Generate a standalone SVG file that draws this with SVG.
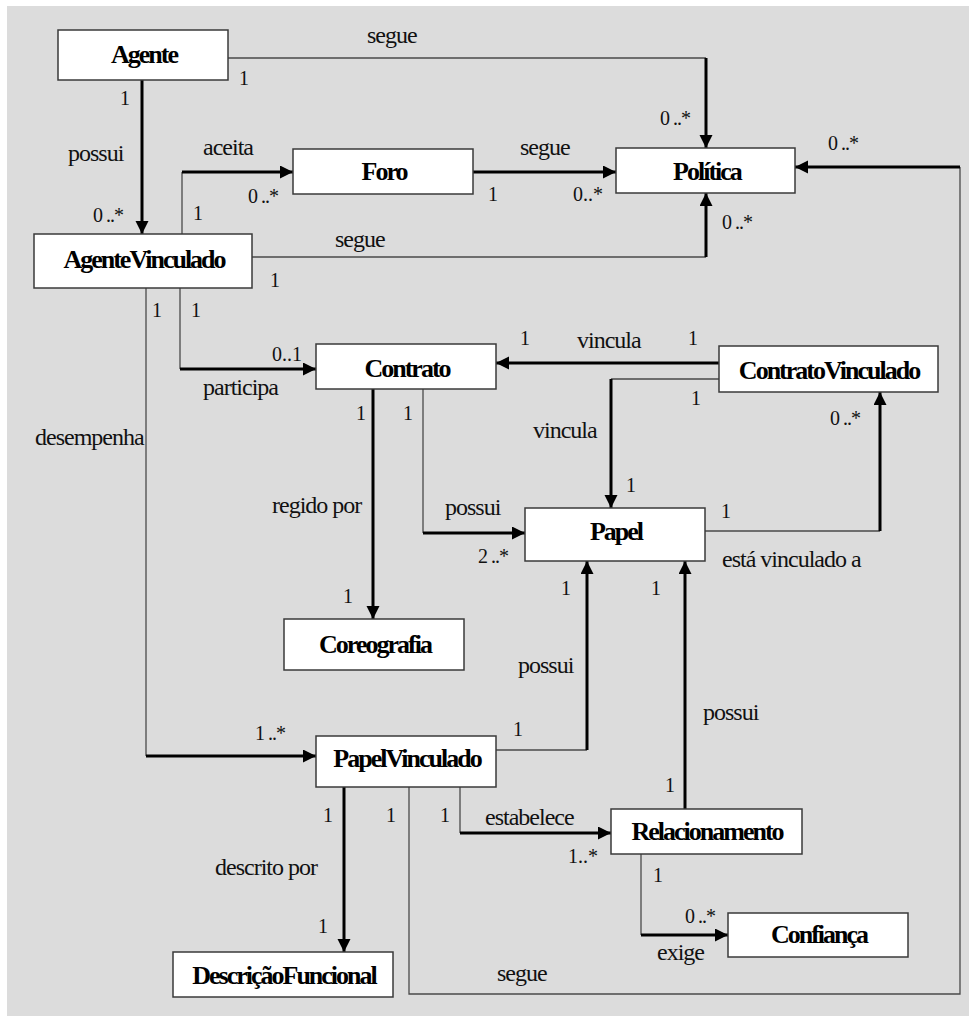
<svg xmlns="http://www.w3.org/2000/svg" width="969" height="1016" viewBox="0 0 969 1016">
<style>
.bg{fill:#dcdcdc}
.node rect{fill:#ffffff;stroke:#3a3a3a;stroke-width:1.5}
.node text{font-family:'Liberation Serif','Times New Roman',serif;font-weight:bold;font-size:26px;letter-spacing:-2px;text-anchor:middle;fill:#000}
.thin{fill:none;stroke:#4a4a4a;stroke-width:1.3}
.thick{fill:none;stroke:#000;stroke-width:3;marker-end:url(#arrow)}
.lbl{font-family:'Liberation Serif','Times New Roman',serif;font-size:24px;letter-spacing:-1px;fill:#111}
.num{font-family:'Liberation Serif','Times New Roman',serif;font-size:20px;fill:#111}
.num.sp{letter-spacing:-1px}
</style>
<defs>
<marker id="arrow" markerUnits="userSpaceOnUse" markerWidth="14" markerHeight="14" refX="13" refY="6.5" orient="auto">
<path d="M0,0 L13,6.5 L0,13 z" fill="#000"/>
</marker>
</defs>
<rect class="bg" x="7" y="6" width="962" height="1010"/>

<g id="connectors">
<polyline class="thin" points="228,58 706,58"/>
<line class="thick" x1="706" y1="58" x2="706" y2="148"/>
<line class="thick" x1="142" y1="80" x2="142" y2="234"/>
<polyline class="thin" points="182,234 182,172"/>
<line class="thick" x1="182" y1="172" x2="293" y2="172"/>
<line class="thick" x1="473" y1="172" x2="616" y2="172"/>
<polyline class="thin" points="252,257 706,257"/>
<line class="thick" x1="706" y1="257" x2="706" y2="193"/>
<polyline class="thin" points="409,787 409,994 960,994 960,167"/>
<line class="thick" x1="960" y1="167" x2="795" y2="167"/>
<polyline class="thin" points="180,288 180,369"/>
<line class="thick" x1="180" y1="369" x2="316" y2="369"/>
<polyline class="thin" points="146,288 146,756"/>
<line class="thick" x1="146" y1="756" x2="316" y2="756"/>
<line class="thick" x1="719" y1="363" x2="496" y2="363"/>
<polyline class="thin" points="719,379 611,379"/>
<line class="thick" x1="611" y1="379" x2="611" y2="508"/>
<line class="thick" x1="373" y1="389" x2="373" y2="619"/>
<polyline class="thin" points="423,389 423,533"/>
<line class="thick" x1="423" y1="533" x2="525" y2="533"/>
<polyline class="thin" points="705,531 880,531"/>
<line class="thick" x1="880" y1="531" x2="880" y2="392"/>
<polyline class="thin" points="496,750 587,750"/>
<line class="thick" x1="587" y1="750" x2="587" y2="561"/>
<line class="thick" x1="685" y1="809" x2="685" y2="561"/>
<line class="thick" x1="344" y1="787" x2="344" y2="952"/>
<polyline class="thin" points="460,787 460,833"/>
<line class="thick" x1="460" y1="833" x2="611" y2="833"/>
<polyline class="thin" points="641,854 641,935"/>
<line class="thick" x1="641" y1="935" x2="728" y2="935"/>
</g>

<g id="labels">
<text class="lbl" x="367" y="43">segue</text>
<text class="num" x="239" y="85">1</text>
<text class="num sp" x="660" y="125">0 ..*</text>
<text class="num" x="120" y="105">1</text>
<text class="lbl" x="68" y="161">possui</text>
<text class="lbl" x="203" y="155">aceita</text>
<text class="num sp" x="93" y="222">0 ..*</text>
<text class="num sp" x="248" y="203">0 ..*</text>
<text class="num" x="193" y="220">1</text>
<text class="lbl" x="520" y="155">segue</text>
<text class="num" x="488" y="201">1</text>
<text class="num" x="573" y="201">0..*</text>
<text class="num sp" x="828" y="150">0 ..*</text>
<text class="lbl" x="335" y="247">segue</text>
<text class="num" x="270" y="287">1</text>
<text class="num sp" x="722" y="229">0 ..*</text>
<text class="num" x="152" y="317">1</text>
<text class="num" x="191" y="317">1</text>
<text class="num" x="272" y="361">0..1</text>
<text class="lbl" x="203" y="395">participa</text>
<text class="lbl" x="35" y="445">desempenha</text>
<text class="lbl" x="272" y="513">regido por</text>
<text class="num" x="520" y="345">1</text>
<text class="lbl" x="577" y="348">vincula</text>
<text class="num" x="688" y="345">1</text>
<text class="num" x="691" y="405">1</text>
<text class="lbl" x="533" y="438">vincula</text>
<text class="num" x="626" y="492">1</text>
<text class="num" x="356" y="420">1</text>
<text class="num" x="403" y="420">1</text>
<text class="lbl" x="445" y="515">possui</text>
<text class="num sp" x="478" y="563">2 ..*</text>
<text class="num" x="343" y="603">1</text>
<text class="num" x="561" y="595">1</text>
<text class="num" x="651" y="595">1</text>
<text class="num sp" x="830" y="425">0 ..*</text>
<text class="num" x="721" y="518">1</text>
<text class="lbl" x="722" y="567">está vinculado a</text>
<text class="lbl" x="518" y="673">possui</text>
<text class="lbl" x="703" y="720">possui</text>
<text class="num" x="513" y="736">1</text>
<text class="num sp" x="255" y="740">1 ..*</text>
<text class="num" x="665" y="792">1</text>
<text class="num" x="323" y="822">1</text>
<text class="num" x="386" y="822">1</text>
<text class="num" x="440" y="822">1</text>
<text class="lbl" x="485" y="825">estabelece</text>
<text class="num" x="568" y="863">1..*</text>
<text class="lbl" x="215" y="875">descrito por</text>
<text class="num" x="318" y="933">1</text>
<text class="num" x="653" y="882">1</text>
<text class="num sp" x="685" y="923">0 ..*</text>
<text class="lbl" x="657" y="960">exige</text>
<text class="lbl" x="497" y="981">segue</text>
</g>

<g id="Agente" class="node"><rect x="58" y="30" width="170" height="50"/><text x="144" y="63">Agente</text></g>
<g id="AgenteVinculado" class="node"><rect x="34" y="234" width="218" height="54"/><text x="144" y="268">AgenteVinculado</text></g>
<g id="Foro" class="node"><rect x="293" y="149" width="180" height="45"/><text x="384" y="180">Foro</text></g>
<g id="Politica" class="node"><rect x="616" y="148" width="179" height="45"/><text x="707" y="180">Política</text></g>
<g id="Contrato" class="node"><rect x="316" y="344" width="180" height="45"/><text x="407" y="377">Contrato</text></g>
<g id="ContratoVinculado" class="node"><rect x="719" y="346" width="219" height="46"/><text x="829" y="379">ContratoVinculado</text></g>
<g id="Papel" class="node"><rect x="525" y="508" width="180" height="53"/><text x="616" y="540">Papel</text></g>
<g id="Coreografia" class="node"><rect x="284" y="619" width="180" height="51"/><text x="375" y="653">Coreografia</text></g>
<g id="PapelVinculado" class="node"><rect x="316" y="736" width="180" height="51"/><text x="407" y="767">PapelVinculado</text></g>
<g id="Relacionamento" class="node"><rect x="611" y="809" width="191" height="45"/><text x="707" y="840">Relacionamento</text></g>
<g id="Confianca" class="node"><rect x="728" y="913" width="180" height="44"/><text x="819" y="943">Confiança</text></g>
<g id="DescricaoFuncional" class="node"><rect x="173" y="952" width="220" height="45"/><text x="284" y="984">DescriçãoFuncional</text></g>
</svg>
